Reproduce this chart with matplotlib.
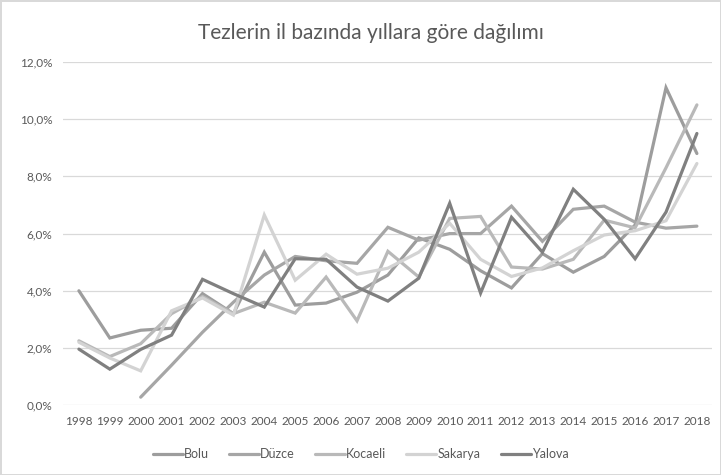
import matplotlib.pyplot as plt
from matplotlib.ticker import FuncFormatter, MultipleLocator
import numpy as np

years = list(range(1998, 2019))

# yearly share of theses (%)
bolu = [4.0, 2.35, 2.62, 2.69, 3.9, 3.2, 5.35, 3.5, 3.57, 3.95, 4.55,
        5.85, 5.45, 4.7, 4.1, 5.3, 4.65, 5.2, 6.3, 11.1, 8.8]
duzce = [None, None, 0.28, 1.4, 2.55, 3.6, 4.55, 5.2, 5.05, 4.96, 6.22,
         5.77, 6.0, 6.0, 6.96, 5.73, 6.85, 6.96, 6.4, 6.19, 6.26]
kocaeli = [2.25, 1.7, 2.15, 3.2, 3.8, 3.2, 3.6, 3.22, 4.48, 2.95, 5.38,
           4.48, 6.53, 6.6, 4.83, 4.76, 5.1, 6.47, 6.2, 8.3, 10.5]
sakarya = [2.2, 1.65, 1.2, 3.3, 3.75, 3.15, 6.65, 4.37, 5.28, 4.58, 4.79,
           5.35, 6.36, 5.1, 4.5, 4.8, 5.4, 5.95, 6.1, 6.45, 8.45]
yalova = [1.96, 1.26, 1.95, 2.45, 4.4, 3.9, 3.43, 5.12, 5.1, 4.13, 3.64,
          4.44, 7.06, 3.92, 6.57, 5.35, 7.55, 6.5, 5.12, 6.75, 9.5]

names = ['Bolu', 'Düzce', 'Kocaeli', 'Sakarya', 'Yalova']
series = [bolu, duzce, kocaeli, sakarya, yalova]
colors = ['#9d9d9d', '#a6a6a6', '#b9b9b9', '#d3d3d3', '#808080']

plt.rcParams['font.family'] = ['Lato', 'DejaVu Sans']

fig = plt.figure(figsize=(7.21, 4.75), dpi=100)
fig.patch.set_edgecolor('#d9d9d9')
fig.patch.set_linewidth(1.0)
ax = fig.add_axes([0.088, 0.147, 0.9, 0.7225])

for name, vals, c in zip(names, series, colors):
    v = np.array([np.nan if x is None else x / 100 for x in vals])
    ax.plot(years, v, color=c, lw=2.3, label=name, solid_capstyle='round',
            solid_joinstyle='miter')

ax.set_xlim(1997.5, 2018.5)
ax.set_ylim(0, 0.12)
ax.yaxis.set_major_locator(MultipleLocator(0.02))
ax.yaxis.set_major_formatter(FuncFormatter(lambda v, p: f'{v*100:.1f}%'.replace('.', ',')))
ax.set_xticks(years)
ax.set_xticklabels([str(y) for y in years])
ax.grid(axis='y', color='#d9d9d9', lw=0.9)
ax.set_axisbelow(True)
for s in ax.spines.values():
    s.set_visible(False)
ax.tick_params(length=0, labelsize=8.5, labelcolor='#595959')
ax.tick_params(axis='y', pad=8)
ax.tick_params(axis='x', pad=8)

fig.text(0.514, 0.93, 'Tezlerin il bazında yıllara göre dağılımı', ha='center',
         va='center', fontsize=15, color='#595959')

fig.legend(loc='center', bbox_to_anchor=(0.5, 0.044), ncol=5, frameon=False,
           fontsize=9, labelcolor='#595959', handlelength=2.4,
           handletextpad=0.1, columnspacing=1.6)

fig.savefig('out.png', dpi=100)
